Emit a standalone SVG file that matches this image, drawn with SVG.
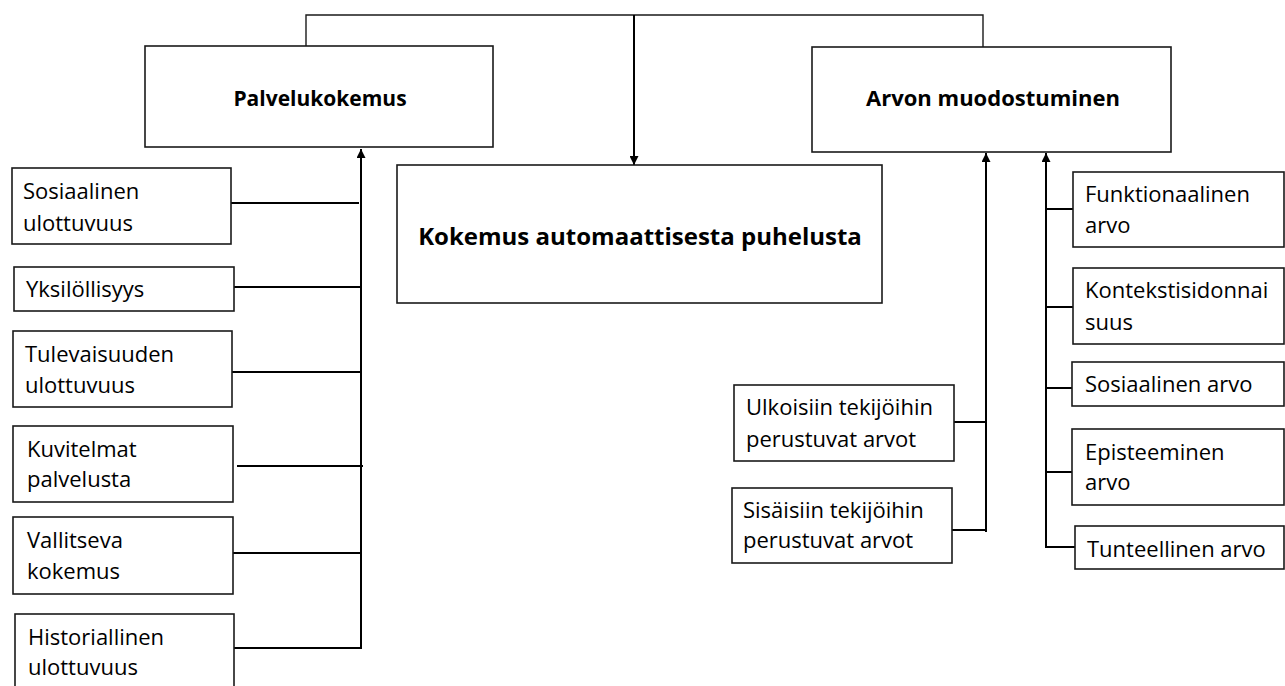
<svg xmlns="http://www.w3.org/2000/svg" width="1285" height="686" viewBox="0 0 1285 686">
<defs>
<style>
.box{fill:#fff;stroke:#1a1a1a;stroke-width:1.6}
.t{font-family:"Open Sans","Noto Sans","Liberation Sans",sans-serif;font-size:22px;fill:#000}
.b{font-family:"Open Sans","Noto Sans","Liberation Sans",sans-serif;font-weight:bold;fill:#000;text-anchor:middle}
.c{fill:none;stroke:#000;stroke-width:2}
.thin{fill:none;stroke:#1a1a1a;stroke-width:1.4}
</style>
<marker id="ah" viewBox="0 0 10 10" refX="10" refY="5" markerWidth="10" markerHeight="9" markerUnits="userSpaceOnUse" orient="auto">
<path d="M0,0 L10,5 L0,10 Z" fill="#000"/>
</marker>
</defs>
<rect width="1285" height="686" fill="#fff"/>

<g id="connectors">
<polyline class="thin" points="306,47 306,15 983,15 983,47"/>
<line class="c" x1="634" y1="15" x2="634" y2="165" marker-end="url(#ah)"/>
<line class="c" x1="361" y1="648" x2="361" y2="149" marker-end="url(#ah)"/>
<line class="c" x1="231" y1="203" x2="359" y2="203"/>
<line class="c" x1="234" y1="287" x2="361" y2="287"/>
<line class="c" x1="232" y1="372" x2="361" y2="372"/>
<line class="c" x1="237" y1="466" x2="363" y2="466"/>
<line class="c" x1="233" y1="553" x2="361" y2="553"/>
<line class="c" x1="234" y1="648" x2="362" y2="648"/>
<line class="c" x1="986" y1="532" x2="986" y2="153" marker-end="url(#ah)"/>
<line class="c" x1="954" y1="422" x2="986" y2="422"/>
<line class="c" x1="952" y1="530" x2="986" y2="530"/>
<polyline class="c" points="1075,547 1046,547 1046,153" marker-end="url(#ah)"/>
<line class="c" x1="1046" y1="209" x2="1073" y2="209"/>
<line class="c" x1="1046" y1="307" x2="1073" y2="307"/>
<line class="c" x1="1046" y1="388" x2="1073" y2="388"/>
<line class="c" x1="1046" y1="472" x2="1073" y2="472"/>
</g>

<g id="palvelukokemus">
<rect class="box" x="145" y="46" width="348" height="101"/>
<text class="b" x="320" y="106" font-size="21">Palvelukokemus</text>
</g>
<g id="arvon-muodostuminen">
<rect class="box" x="812" y="47" width="359" height="105"/>
<text class="b" x="993" y="106" font-size="22">Arvon muodostuminen</text>
</g>
<g id="kokemus">
<rect class="box" x="397" y="165" width="485" height="138"/>
<text class="b" x="640" y="245" font-size="24">Kokemus automaattisesta puhelusta</text>
</g>

<g id="sosiaalinen-ulottuvuus">
<rect class="box" x="12" y="168" width="219" height="76"/>
<text class="t" x="23" y="199">Sosiaalinen</text>
<text class="t" x="23" y="231">ulottuvuus</text>
</g>
<g id="yksilollisyys">
<rect class="box" x="14" y="267" width="220" height="44"/>
<text class="t" x="26" y="297">Yksilöllisyys</text>
</g>
<g id="tulevaisuuden-ulottuvuus">
<rect class="box" x="13" y="331" width="219" height="76"/>
<text class="t" x="25" y="362">Tulevaisuuden</text>
<text class="t" x="25" y="393">ulottuvuus</text>
</g>
<g id="kuvitelmat-palvelusta">
<rect class="box" x="13" y="426" width="220" height="76"/>
<text class="t" x="27" y="457">Kuvitelmat</text>
<text class="t" x="27" y="487">palvelusta</text>
</g>
<g id="vallitseva-kokemus">
<rect class="box" x="13" y="517" width="220" height="77"/>
<text class="t" x="27" y="548">Vallitseva</text>
<text class="t" x="27" y="579">kokemus</text>
</g>
<g id="historiallinen-ulottuvuus">
<rect class="box" x="15" y="614" width="219" height="80"/>
<text class="t" x="28" y="645">Historiallinen</text>
<text class="t" x="28" y="675">ulottuvuus</text>
</g>

<g id="ulkoisiin">
<rect class="box" x="734" y="385" width="220" height="76"/>
<text class="t" x="746" y="415">Ulkoisiin tekijöihin</text>
<text class="t" x="746" y="447">perustuvat arvot</text>
</g>
<g id="sisaisiin">
<rect class="box" x="732" y="488" width="220" height="75"/>
<text class="t" x="743" y="518">Sisäisiin tekijöihin</text>
<text class="t" x="743" y="548">perustuvat arvot</text>
</g>

<g id="funktionaalinen-arvo">
<rect class="box" x="1073" y="172" width="211" height="75"/>
<text class="t" x="1085" y="202">Funktionaalinen</text>
<text class="t" x="1085" y="233">arvo</text>
</g>
<g id="kontekstisidonnaisuus">
<rect class="box" x="1073" y="268" width="211" height="76"/>
<text class="t" x="1085" y="298">Kontekstisidonnai</text>
<text class="t" x="1085" y="330">suus</text>
</g>
<g id="sosiaalinen-arvo">
<rect class="box" x="1072" y="362" width="212" height="44"/>
<text class="t" x="1085" y="392">Sosiaalinen arvo</text>
</g>
<g id="episteeminen-arvo">
<rect class="box" x="1072" y="429" width="212" height="76"/>
<text class="t" x="1085" y="460">Episteeminen</text>
<text class="t" x="1085" y="490">arvo</text>
</g>
<g id="tunteellinen-arvo">
<rect class="box" x="1075" y="526" width="209" height="43"/>
<text class="t" x="1087" y="557">Tunteellinen arvo</text>
</g>
</svg>
